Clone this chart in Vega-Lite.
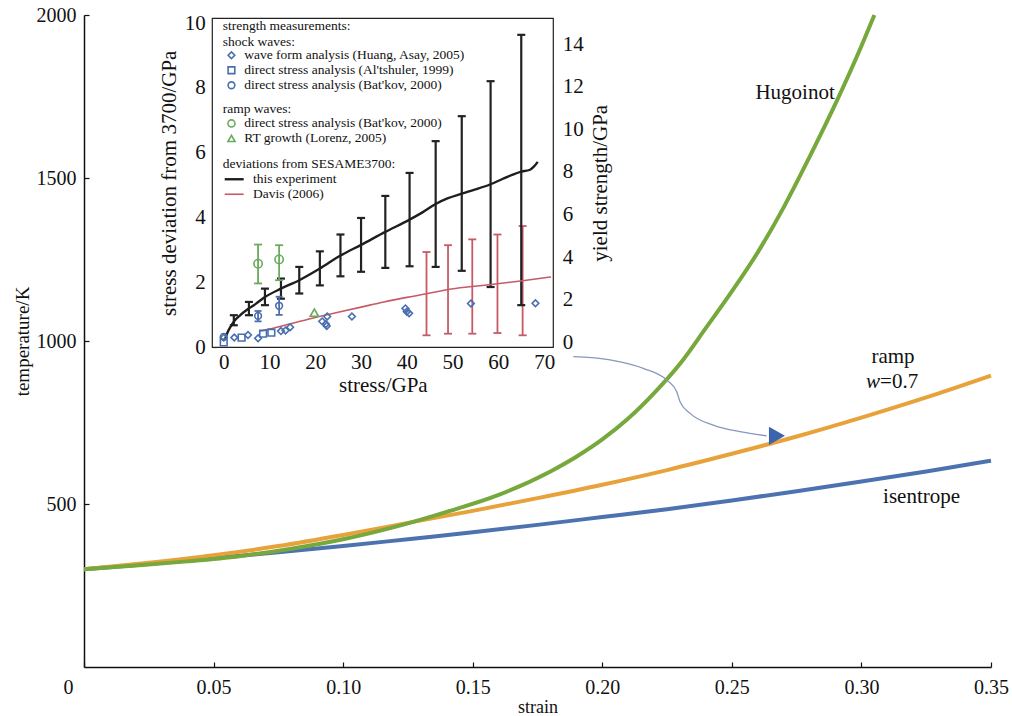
{
  "$schema": "https://vega.github.io/schema/vega-lite/v6.json",
  "width": 907,
  "height": 652,
  "autosize": "none",
  "padding": {"left": 84, "top": 15, "right": 21, "bottom": 49},
  "background": "white",
  "config": {
    "view": {"stroke": null},
    "font": "Liberation Serif",
    "axis": {"grid": false, "labelFont": "Liberation Serif", "titleFont": "Liberation Serif", "labelFontSize": 20, "titleFontSize": 18, "titleFontWeight": "normal", "labelColor": "#111", "titleColor": "#111"},
    "legend": {"labelFont": "Liberation Serif", "titleFont": "Liberation Serif"}
  },
  "datasets": {
    "curves": [
      {"curve": "isentrope", "strain": 0, "T": 300}, {"curve": "isentrope", "strain": 0.025, "T": 316}, {"curve": "isentrope", "strain": 0.05, "T": 334}, {"curve": "isentrope", "strain": 0.075, "T": 352}, {"curve": "isentrope", "strain": 0.1, "T": 371}, {"curve": "isentrope", "strain": 0.125, "T": 392}, {"curve": "isentrope", "strain": 0.15, "T": 413}, {"curve": "isentrope", "strain": 0.175, "T": 436}, {"curve": "isentrope", "strain": 0.2, "T": 460}, {"curve": "isentrope", "strain": 0.225, "T": 484}, {"curve": "isentrope", "strain": 0.25, "T": 511}, {"curve": "isentrope", "strain": 0.275, "T": 539}, {"curve": "isentrope", "strain": 0.3, "T": 569}, {"curve": "isentrope", "strain": 0.325, "T": 600}, {"curve": "isentrope", "strain": 0.35, "T": 633},
      {"curve": "ramp", "strain": 0, "T": 300}, {"curve": "ramp", "strain": 0.025, "T": 320}, {"curve": "ramp", "strain": 0.05, "T": 343}, {"curve": "ramp", "strain": 0.075, "T": 371}, {"curve": "ramp", "strain": 0.1, "T": 405}, {"curve": "ramp", "strain": 0.125, "T": 442}, {"curve": "ramp", "strain": 0.15, "T": 479}, {"curve": "ramp", "strain": 0.175, "T": 518}, {"curve": "ramp", "strain": 0.2, "T": 559}, {"curve": "ramp", "strain": 0.225, "T": 604}, {"curve": "ramp", "strain": 0.25, "T": 654}, {"curve": "ramp", "strain": 0.275, "T": 707}, {"curve": "ramp", "strain": 0.3, "T": 765}, {"curve": "ramp", "strain": 0.325, "T": 827}, {"curve": "ramp", "strain": 0.35, "T": 894},
      {"curve": "hugoniot", "strain": 0, "T": 300}, {"curve": "hugoniot", "strain": 0.02, "T": 311}, {"curve": "hugoniot", "strain": 0.04, "T": 324}, {"curve": "hugoniot", "strain": 0.06, "T": 340}, {"curve": "hugoniot", "strain": 0.08, "T": 363}, {"curve": "hugoniot", "strain": 0.1, "T": 392}, {"curve": "hugoniot", "strain": 0.12, "T": 430}, {"curve": "hugoniot", "strain": 0.14, "T": 476}, {"curve": "hugoniot", "strain": 0.16, "T": 528}, {"curve": "hugoniot", "strain": 0.18, "T": 600}, {"curve": "hugoniot", "strain": 0.19, "T": 645}, {"curve": "hugoniot", "strain": 0.2, "T": 698}, {"curve": "hugoniot", "strain": 0.21, "T": 762}, {"curve": "hugoniot", "strain": 0.22, "T": 840}, {"curve": "hugoniot", "strain": 0.23, "T": 930}, {"curve": "hugoniot", "strain": 0.24, "T": 1040}, {"curve": "hugoniot", "strain": 0.25, "T": 1152}, {"curve": "hugoniot", "strain": 0.26, "T": 1272}, {"curve": "hugoniot", "strain": 0.27, "T": 1410}, {"curve": "hugoniot", "strain": 0.28, "T": 1565}, {"curve": "hugoniot", "strain": 0.29, "T": 1728}, {"curve": "hugoniot", "strain": 0.3, "T": 1905}, {"curve": "hugoniot", "strain": 0.305, "T": 2000}
    ],
    "arrow": [
      {"strain": 0.1888, "T": 952}, {"strain": 0.203, "T": 942}, {"strain": 0.2158, "T": 916}, {"strain": 0.2249, "T": 880}, {"strain": 0.2287, "T": 845}, {"strain": 0.23, "T": 814}, {"strain": 0.2339, "T": 778}, {"strain": 0.2428, "T": 742}, {"strain": 0.2531, "T": 722}, {"strain": 0.2634, "T": 709}
    ],
    "arrowhead": [{"strain": 0.2674, "T": 709}],
    "labels": [
      {"text": "Hugoinot", "strain": 0.2744, "T": 1762},
      {"text": "ramp", "strain": 0.3122, "T": 952},
      {"text": "isentrope", "strain": 0.3232, "T": 522}
    ],
    "wlabel": [{"text": "w", "strain": 0.3072, "T": 875}],
    "wvalue": [{"text": "=0.7", "strain": 0.3072, "T": 875}],
    "dev": [
      {"series": "this experiment", "s": 0.3, "v": 0.25}, {"series": "this experiment", "s": 0.8, "v": 0.45}, {"series": "this experiment", "s": 1.5, "v": 0.64}, {"series": "this experiment", "s": 2.4, "v": 0.83}, {"series": "this experiment", "s": 3.5, "v": 0.98}, {"series": "this experiment", "s": 5.3, "v": 1.18}, {"series": "this experiment", "s": 7, "v": 1.34}, {"series": "this experiment", "s": 9, "v": 1.55}, {"series": "this experiment", "s": 12.5, "v": 1.81}, {"series": "this experiment", "s": 16.5, "v": 2.07}, {"series": "this experiment", "s": 21, "v": 2.43}, {"series": "this experiment", "s": 25.5, "v": 2.83}, {"series": "this experiment", "s": 30, "v": 3.16}, {"series": "this experiment", "s": 35.3, "v": 3.56}, {"series": "this experiment", "s": 40.6, "v": 3.94}, {"series": "this experiment", "s": 43.5, "v": 4.17}, {"series": "this experiment", "s": 46.3, "v": 4.42}, {"series": "this experiment", "s": 49, "v": 4.6}, {"series": "this experiment", "s": 52, "v": 4.74}, {"series": "this experiment", "s": 55, "v": 4.87}, {"series": "this experiment", "s": 58.3, "v": 5.03}, {"series": "this experiment", "s": 61, "v": 5.2}, {"series": "this experiment", "s": 63, "v": 5.32}, {"series": "this experiment", "s": 65, "v": 5.42}, {"series": "this experiment", "s": 66.8, "v": 5.47}, {"series": "this experiment", "s": 67.8, "v": 5.58}, {"series": "this experiment", "s": 68.6, "v": 5.72},
      {"series": "Davis (2006)", "s": 8, "v": 0.5}, {"series": "Davis (2006)", "s": 10, "v": 0.56}, {"series": "Davis (2006)", "s": 15, "v": 0.74}, {"series": "Davis (2006)", "s": 20, "v": 0.92}, {"series": "Davis (2006)", "s": 25, "v": 1.08}, {"series": "Davis (2006)", "s": 30, "v": 1.24}, {"series": "Davis (2006)", "s": 35, "v": 1.4}, {"series": "Davis (2006)", "s": 40, "v": 1.54}, {"series": "Davis (2006)", "s": 44.3, "v": 1.65}, {"series": "Davis (2006)", "s": 49, "v": 1.785}, {"series": "Davis (2006)", "s": 54.3, "v": 1.875}, {"series": "Davis (2006)", "s": 59.8, "v": 1.96}, {"series": "Davis (2006)", "s": 65.3, "v": 2.055}, {"series": "Davis (2006)", "s": 71.5, "v": 2.17}
    ],
    "blkerr": [
      {"s": 2.2, "lo": 0.68, "hi": 0.99}, {"s": 5.5, "lo": 0.99, "hi": 1.4}, {"s": 9, "lo": 1.3, "hi": 1.81}, {"s": 12.5, "lo": 1.5, "hi": 2.12}, {"s": 16.5, "lo": 1.66, "hi": 2.48}, {"s": 21, "lo": 1.91, "hi": 2.96}, {"s": 25.5, "lo": 2.19, "hi": 3.48}, {"s": 30, "lo": 2.33, "hi": 3.99}, {"s": 35.3, "lo": 2.45, "hi": 4.67}, {"s": 40.6, "lo": 2.5, "hi": 5.38}, {"s": 46.3, "lo": 2.48, "hi": 6.36}, {"s": 52, "lo": 2.36, "hi": 7.13}, {"s": 58.3, "lo": 1.86, "hi": 8.21}, {"s": 65, "lo": 1.3, "hi": 9.64}
    ],
    "rederr": [
      {"s": 44.3, "lo": 0.37, "hi": 2.94}, {"s": 49, "lo": 0.42, "hi": 3.15}, {"s": 54.3, "lo": 0.42, "hi": 3.33}, {"s": 59.8, "lo": 0.44, "hi": 3.48}, {"s": 65.3, "lo": 0.37, "hi": 3.74}
    ],
    "shockerr": [{"s": 7.5, "lo": 0.8, "hi": 1.12}, {"s": 12.1, "lo": 1.0, "hi": 1.56}],
    "ramperr": [{"s": 7.5, "lo": 1.97, "hi": 3.17}, {"s": 12.1, "lo": 2.07, "hi": 3.15}],
    "shock": [
      {"src": "wave form analysis (Huang, Asay, 2005)", "s": 0, "v": 0.3}, {"src": "wave form analysis (Huang, Asay, 2005)", "s": 2.3, "v": 0.3}, {"src": "wave form analysis (Huang, Asay, 2005)", "s": 5.3, "v": 0.38}, {"src": "wave form analysis (Huang, Asay, 2005)", "s": 7.5, "v": 0.28}, {"src": "wave form analysis (Huang, Asay, 2005)", "s": 12.5, "v": 0.5}, {"src": "wave form analysis (Huang, Asay, 2005)", "s": 13.5, "v": 0.52}, {"src": "wave form analysis (Huang, Asay, 2005)", "s": 14.5, "v": 0.62}, {"src": "wave form analysis (Huang, Asay, 2005)", "s": 21.5, "v": 0.8}, {"src": "wave form analysis (Huang, Asay, 2005)", "s": 22.3, "v": 0.72}, {"src": "wave form analysis (Huang, Asay, 2005)", "s": 22.6, "v": 0.95}, {"src": "wave form analysis (Huang, Asay, 2005)", "s": 22.5, "v": 0.66}, {"src": "wave form analysis (Huang, Asay, 2005)", "s": 28, "v": 0.95}, {"src": "wave form analysis (Huang, Asay, 2005)", "s": 39.7, "v": 1.2}, {"src": "wave form analysis (Huang, Asay, 2005)", "s": 40, "v": 1.1}, {"src": "wave form analysis (Huang, Asay, 2005)", "s": 40.5, "v": 1.05}, {"src": "wave form analysis (Huang, Asay, 2005)", "s": 54, "v": 1.35}, {"src": "wave form analysis (Huang, Asay, 2005)", "s": 68.1, "v": 1.36},
      {"src": "direct stress analysis (Al'tshuler, 1999)", "s": 0, "v": 0.15}, {"src": "direct stress analysis (Al'tshuler, 1999)", "s": 3.9, "v": 0.3}, {"src": "direct stress analysis (Al'tshuler, 1999)", "s": 8.6, "v": 0.42}, {"src": "direct stress analysis (Al'tshuler, 1999)", "s": 10.4, "v": 0.45},
      {"src": "direct stress analysis (Bat'kov, 2000)", "s": 0, "v": 0.32}, {"src": "direct stress analysis (Bat'kov, 2000)", "s": 7.5, "v": 0.97}, {"src": "direct stress analysis (Bat'kov, 2000)", "s": 12.1, "v": 1.28}
    ],
    "ramp": [
      {"src": "direct stress analysis (Bat'kov, 2000)", "s": 7.5, "v": 2.58}, {"src": "direct stress analysis (Bat'kov, 2000)", "s": 12.1, "v": 2.71}, {"src": "RT growth (Lorenz, 2005)", "s": 19.8, "v": 1.07}
    ]
  },
  "layer": [
    {
      "layer": [
        {
          "data": {"name": "curves"},
          "transform": [{"filter": "datum.curve === 'isentrope'"}],
          "mark": {"type": "line", "color": "#4d72b0", "strokeWidth": 4, "interpolate": "monotone"},
          "encoding": {
            "x": {"field": "strain", "type": "quantitative", "scale": {"domain": [0, 0.35], "nice": false, "zero": false},
              "axis": {"orient": "bottom", "values": [0, 0.05, 0.1, 0.15, 0.2, 0.25, 0.3, 0.35], "labelExpr": "datum.value === 0 ? '0' : format(datum.value, '.2f')", "labelFont": "Liberation Serif", "labelFontSize": 20, "labelColor": "#111", "labelPadding": 15, "labelOffset": {"condition": {"test": "datum.value === 0", "value": -16}, "value": 0}, "labelFlush": false, "labelOverlap": false, "tickSize": -5, "tickColor": "#111", "tickWidth": 1.2, "domainColor": "#111", "domainWidth": 1.5, "title": "strain", "titleFont": "Liberation Serif", "titleFontSize": 18, "titleFontWeight": "normal", "titleColor": "#111", "titlePadding": 1}},
            "y": {"field": "T", "type": "quantitative", "scale": {"domain": [0, 2000], "nice": false, "zero": false},
              "axis": {"orient": "left", "values": [500, 1000, 1500, 2000], "format": "d", "labelFont": "Liberation Serif", "labelFontSize": 20, "labelColor": "#111", "labelPadding": 13, "labelFlush": false, "tickSize": -5, "tickColor": "#111", "tickWidth": 1.2, "domainColor": "#111", "domainWidth": 1.5, "title": "temperature/K", "titleFont": "Liberation Serif", "titleFontSize": 19, "titleFontWeight": "normal", "titleColor": "#111", "titlePadding": 4}}
          }
        },
        {
          "data": {"name": "curves"},
          "transform": [{"filter": "datum.curve === 'ramp'"}],
          "mark": {"type": "line", "color": "#e8a23c", "strokeWidth": 4, "interpolate": "monotone"},
          "encoding": {"x": {"field": "strain", "type": "quantitative"}, "y": {"field": "T", "type": "quantitative"}}
        },
        {
          "data": {"name": "curves"},
          "transform": [{"filter": "datum.curve === 'hugoniot'"}],
          "mark": {"type": "line", "color": "#76a83c", "strokeWidth": 4, "interpolate": "monotone"},
          "encoding": {"x": {"field": "strain", "type": "quantitative"}, "y": {"field": "T", "type": "quantitative"}}
        },
        {
          "data": {"name": "arrow"},
          "mark": {"type": "line", "color": "#8797bd", "strokeWidth": 1.3, "interpolate": "monotone"},
          "encoding": {"x": {"field": "strain", "type": "quantitative"}, "y": {"field": "T", "type": "quantitative"}}
        },
        {
          "data": {"name": "arrowhead"},
          "mark": {"type": "point", "shape": "triangle-right", "filled": true, "color": "#3b63ae", "size": 340, "opacity": 1},
          "encoding": {"x": {"field": "strain", "type": "quantitative"}, "y": {"field": "T", "type": "quantitative"}}
        },
        {
          "data": {"name": "labels"},
          "mark": {"type": "text", "font": "Liberation Serif", "fontSize": 21, "color": "#111", "align": "center", "baseline": "middle"},
          "encoding": {"x": {"field": "strain", "type": "quantitative"}, "y": {"field": "T", "type": "quantitative"}, "text": {"field": "text"}}
        },
        {
          "data": {"name": "wlabel"},
          "mark": {"type": "text", "font": "Liberation Serif", "fontSize": 21, "fontStyle": "italic", "color": "#111", "align": "right", "baseline": "middle"},
          "encoding": {"x": {"field": "strain", "type": "quantitative"}, "y": {"field": "T", "type": "quantitative"}, "text": {"field": "text"}}
        },
        {
          "data": {"name": "wvalue"},
          "mark": {"type": "text", "font": "Liberation Serif", "fontSize": 21, "color": "#111", "align": "left", "baseline": "middle"},
          "encoding": {"x": {"field": "strain", "type": "quantitative"}, "y": {"field": "T", "type": "quantitative"}, "text": {"field": "text"}}
        }
      ]
    },
    {
      "layer": [
        {
          "layer": [
            {
              "data": {"values": [{}]},
              "mark": {"type": "rect", "fill": "white", "stroke": "#222", "strokeWidth": 1.2},
              "encoding": {
                "x": {"datum": -2.5, "type": "quantitative", "scale": {"domain": [-2.5, 72], "range": [128.3, 469.3], "nice": false, "zero": false},
                  "axis": {"orient": "bottom", "offset": -319.7, "values": [0, 10, 20, 30, 40, 50, 60, 70], "format": "d", "domain": false, "labelFont": "Liberation Serif", "labelFontSize": 21, "labelColor": "#111", "labelPadding": 8, "labelFlush": false, "labelOverlap": false, "tickSize": -4, "tickColor": "#222", "tickWidth": 1.2, "title": "stress/GPa", "titleFont": "Liberation Serif", "titleFontSize": 21, "titleFontWeight": "normal", "titleColor": "#111", "titlePadding": 2}},
                "x2": {"datum": 72},
                "y": {"datum": 0, "type": "quantitative", "scale": {"domain": [0, 10.15], "range": [332.3, 3.3], "nice": false, "zero": false},
                  "axis": {"orient": "left", "offset": -128.3, "values": [0, 2, 4, 6, 8, 10], "format": "d", "domain": false, "labelFont": "Liberation Serif", "labelFontSize": 21, "labelColor": "#111", "labelPadding": 11, "labelFlush": false, "tickSize": -4, "tickColor": "#222", "tickWidth": 1.2, "title": "stress deviation from 3700/GPa", "titleFont": "Liberation Serif", "titleFontSize": 21, "titleFontWeight": "normal", "titleColor": "#111", "titlePadding": 5}},
                "y2": {"datum": 10.15}
              }
            },
            {
              "data": {"name": "rederr"},
              "mark": {"type": "rule", "color": "#c75a67", "strokeWidth": 1.8},
              "encoding": {"x": {"field": "s", "type": "quantitative"}, "y": {"field": "lo", "type": "quantitative"}, "y2": {"field": "hi"}}
            },
            {
              "data": {"name": "rederr"},
              "mark": {"type": "point", "shape": "stroke", "size": 64, "strokeWidth": 1.8, "color": "#c75a67", "opacity": 1},
              "encoding": {"x": {"field": "s", "type": "quantitative"}, "y": {"field": "lo", "type": "quantitative"}}
            },
            {
              "data": {"name": "rederr"},
              "mark": {"type": "point", "shape": "stroke", "size": 64, "strokeWidth": 1.8, "color": "#c75a67", "opacity": 1},
              "encoding": {"x": {"field": "s", "type": "quantitative"}, "y": {"field": "hi", "type": "quantitative"}}
            },
            {
              "data": {"name": "blkerr"},
              "mark": {"type": "rule", "color": "#222", "strokeWidth": 2.2},
              "encoding": {"x": {"field": "s", "type": "quantitative"}, "y": {"field": "lo", "type": "quantitative"}, "y2": {"field": "hi"}}
            },
            {
              "data": {"name": "blkerr"},
              "mark": {"type": "point", "shape": "stroke", "size": 64, "strokeWidth": 2.2, "color": "#222", "opacity": 1},
              "encoding": {"x": {"field": "s", "type": "quantitative"}, "y": {"field": "lo", "type": "quantitative"}}
            },
            {
              "data": {"name": "blkerr"},
              "mark": {"type": "point", "shape": "stroke", "size": 64, "strokeWidth": 2.2, "color": "#222", "opacity": 1},
              "encoding": {"x": {"field": "s", "type": "quantitative"}, "y": {"field": "hi", "type": "quantitative"}}
            },
            {
              "data": {"name": "dev"},
              "mark": {"type": "line", "interpolate": "monotone"},
              "encoding": {
                "x": {"field": "s", "type": "quantitative"},
                "y": {"field": "v", "type": "quantitative"},
                "color": {"field": "series", "type": "nominal", "scale": {"domain": ["this experiment", "Davis (2006)"], "range": ["#1e1e1e", "#c75a67"]},
                  "legend": {"orient": "none", "legendX": 138.7, "legendY": 141.5, "padding": 0, "title": "deviations from SESAME3700:", "titleFont": "Liberation Serif", "titleFontSize": 13.5, "titleFontWeight": "normal", "titleColor": "#111", "titlePadding": 2.5, "labelFont": "Liberation Serif", "labelFontSize": 13.5, "labelColor": "#111", "labelOffset": 12, "symbolType": "M-2,0L2,0", "symbolSize": 90, "symbolStrokeWidth": 2.5, "symbolOffset": 4.75, "rowPadding": 0, "labelLimit": 400}},
                "strokeWidth": {"field": "series", "type": "nominal", "scale": {"domain": ["this experiment", "Davis (2006)"], "range": [2.4, 1.6]}, "legend": null}
              }
            },
            {
              "data": {"name": "ramperr"},
              "mark": {"type": "rule", "color": "#6aaa5c", "strokeWidth": 1.8},
              "encoding": {"x": {"field": "s", "type": "quantitative"}, "y": {"field": "lo", "type": "quantitative"}, "y2": {"field": "hi"}}
            },
            {
              "data": {"name": "ramperr"},
              "mark": {"type": "point", "shape": "stroke", "size": 64, "strokeWidth": 1.8, "color": "#6aaa5c", "opacity": 1},
              "encoding": {"x": {"field": "s", "type": "quantitative"}, "y": {"field": "lo", "type": "quantitative"}}
            },
            {
              "data": {"name": "ramperr"},
              "mark": {"type": "point", "shape": "stroke", "size": 64, "strokeWidth": 1.8, "color": "#6aaa5c", "opacity": 1},
              "encoding": {"x": {"field": "s", "type": "quantitative"}, "y": {"field": "hi", "type": "quantitative"}}
            },
            {
              "data": {"name": "shockerr"},
              "mark": {"type": "rule", "color": "#4a6fae", "strokeWidth": 1.8},
              "encoding": {"x": {"field": "s", "type": "quantitative"}, "y": {"field": "lo", "type": "quantitative"}, "y2": {"field": "hi"}}
            },
            {
              "data": {"name": "shockerr"},
              "mark": {"type": "point", "shape": "stroke", "size": 49, "strokeWidth": 1.8, "color": "#4a6fae", "opacity": 1},
              "encoding": {"x": {"field": "s", "type": "quantitative"}, "y": {"field": "lo", "type": "quantitative"}}
            },
            {
              "data": {"name": "shockerr"},
              "mark": {"type": "point", "shape": "stroke", "size": 49, "strokeWidth": 1.8, "color": "#4a6fae", "opacity": 1},
              "encoding": {"x": {"field": "s", "type": "quantitative"}, "y": {"field": "hi", "type": "quantitative"}}
            },
            {
              "data": {"name": "shock"},
              "mark": {"type": "point", "filled": false, "color": "#4a6fae", "strokeWidth": 1.6, "size": 45, "opacity": 1},
              "encoding": {
                "x": {"field": "s", "type": "quantitative"},
                "y": {"field": "v", "type": "quantitative"},
                "shape": {"field": "src", "type": "nominal", "scale": {"domain": ["wave form analysis (Huang, Asay, 2005)", "direct stress analysis (Al'tshuler, 1999)", "direct stress analysis (Bat'kov, 2000)"], "range": ["diamond", "square", "circle"]},
                  "legend": {"orient": "none", "legendX": 138.7, "legendY": 4, "padding": 0, "title": ["strength measurements:", "shock waves:"], "titleFont": "Liberation Serif", "titleFontSize": 13.5, "titleFontWeight": "normal", "titleColor": "#111", "titleLineHeight": 15.5, "titlePadding": 0.5, "labelFont": "Liberation Serif", "labelFontSize": 13.5, "labelColor": "#111", "labelOffset": 6, "symbolOffset": 2, "symbolSize": 45, "symbolStrokeWidth": 1.6, "symbolStrokeColor": "#4a6fae", "symbolFillColor": "transparent", "rowPadding": 0, "labelLimit": 400}}
              }
            },
            {
              "data": {"name": "ramp"},
              "mark": {"type": "point", "filled": false, "color": "#6aaa5c", "strokeWidth": 1.6, "size": 70, "opacity": 1},
              "encoding": {
                "x": {"field": "s", "type": "quantitative"},
                "y": {"field": "v", "type": "quantitative"},
                "shape": {"field": "src", "type": "nominal", "scale": {"domain": ["direct stress analysis (Bat'kov, 2000)", "RT growth (Lorenz, 2005)"], "range": ["circle", "triangle-up"]},
                  "legend": {"orient": "none", "legendX": 138.7, "legendY": 87.2, "padding": 0, "title": "ramp waves:", "titleFont": "Liberation Serif", "titleFontSize": 13.5, "titleFontWeight": "normal", "titleColor": "#111", "titlePadding": 1, "labelFont": "Liberation Serif", "labelFontSize": 13.5, "labelColor": "#111", "labelOffset": 6, "symbolOffset": 2, "symbolSize": 50, "symbolStrokeWidth": 1.6, "symbolStrokeColor": "#6aaa5c", "symbolFillColor": "transparent", "rowPadding": 0, "labelLimit": 400}}
              }
            }
          ],
          "resolve": {"scale": {"shape": "independent"}, "legend": {"shape": "independent"}}
        },
        {
          "data": {"values": [{}]},
          "mark": {"type": "point", "opacity": 0},
          "encoding": {
            "y": {"datum": 0, "type": "quantitative", "scale": {"domain": [-0.235, 15.22], "range": [332.3, 3.3], "nice": false, "zero": false},
              "axis": {"orient": "right", "offset": -437.7, "values": [0, 2, 4, 6, 8, 10, 12, 14], "format": "d", "domain": false, "labelFont": "Liberation Serif", "labelFontSize": 21, "labelColor": "#111", "labelPadding": 13, "labelFlush": false, "tickSize": -4, "tickColor": "#222", "tickWidth": 1.2, "title": "yield strength/GPa", "titleFont": "Liberation Serif", "titleFontSize": 21, "titleFontWeight": "normal", "titleColor": "#111", "titleAngle": 270, "titleBaseline": "top", "titlePadding": 6}}
          }
        }
      ],
      "resolve": {"scale": {"y": "independent"}, "axis": {"y": "independent"}}
    }
  ],
  "resolve": {"scale": {"x": "independent", "y": "independent"}, "axis": {"x": "independent", "y": "independent"}}
}
